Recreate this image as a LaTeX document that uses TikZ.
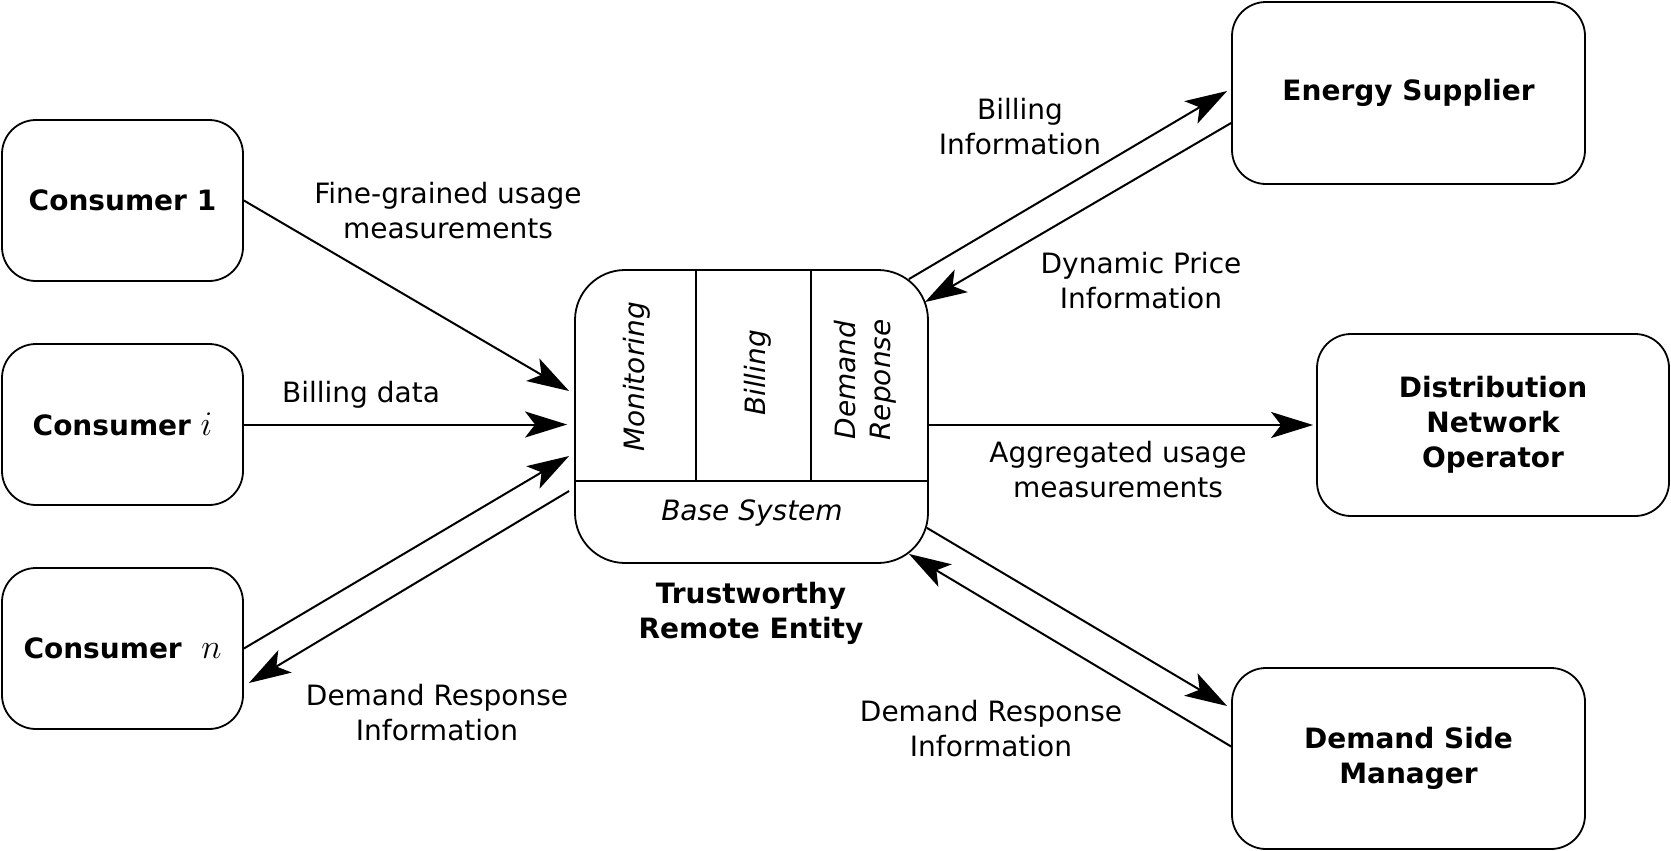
\documentclass[tikz,border=0pt]{standalone}
\usepackage{fontspec}
\setmainfont{DejaVu Sans}
\usetikzlibrary{arrows.meta,calc}
\newcommand{\mathbig}[1]{{\fontsize{16.5}{16.5}\selectfont$#1$}}
\begin{document}
\begin{tikzpicture}[x=0.5pt,y=-0.5pt,
  txt/.style={font=\fontsize{14}{17.5}\selectfont},
  box/.style={draw, line width=0.9pt, rounded corners=17pt, align=center, inner sep=0pt,
              font=\fontsize{14}{17.5}\selectfont\bfseries},
  arr/.style={line width=1pt, -{Stealth[length=21pt,width=13pt,inset=5pt]}},
  lbl/.style={txt, align=center, inner sep=0pt},
  itl/.style={lbl, font=\fontsize{14}{17.5}\selectfont\itshape},
  bld/.style={lbl, font=\fontsize{14}{17.5}\selectfont\bfseries}]
\useasboundingbox (0,0) rectangle (1671,851);

% outer boxes
\node[box, minimum width=120.5pt, minimum height=80.5pt] (c1) at (122.5,200.5) {Consumer 1};
\node[box, minimum width=120.5pt, minimum height=80.5pt] (ci) at (122.5,424.5) {Consumer \mathbig{i}};
\node[box, minimum width=120.5pt, minimum height=80.5pt] (cn) at (122.5,648.5) {Consumer\ \ \mathbig{n}};
\node[box, minimum width=176.5pt, minimum height=91pt] (es) at (1408.5,93) {Energy Supplier};
\node[box, minimum width=176pt, minimum height=91pt] (dno) at (1493,425) {Distribution\\Network\\Operator};
\node[box, minimum width=176.5pt, minimum height=90.5pt] (dsm) at (1408.5,758.5) {Demand Side\\Manager};

% central entity
\node[draw, line width=0.9pt, rounded corners=25pt, minimum width=176.5pt, minimum height=146.5pt, inner sep=0pt] (tre) at (751.5,416.5) {};
\draw[line width=0.9pt] (tre.west |- 0,481) -- (tre.east |- 0,481);
\draw[line width=0.9pt] (696,481) -- (tre.north -| 696,0);
\draw[line width=0.9pt] (811,481) -- (tre.north -| 811,0);
\node[itl, rotate=90] (mon) at (637,377) {Monitoring};
\node[itl, rotate=90] (bil) at (758,373) {Billing};
\node[itl, rotate=90] (drp) at (865,380) {Demand\\Reponse};
\node[itl] (base) at (752,513) {Base System};
\node[bld] (trelbl) at (751,613) {Trustworthy\\Remote Entity};

% labels
\node[lbl] (l1) at (448,211) {Fine-grained usage\\measurements};
\node[lbl] (l2) at (361,395) {Billing data};
\node[lbl] (l3) at (437,713) {Demand Response\\Information};
\node[lbl] (l4) at (1020,127) {Billing\\Information};
\node[lbl] (l5) at (1141,281) {Dynamic Price\\Information};
\node[lbl] (l6) at (1118,470) {Aggregated usage\\measurements};
\node[lbl] (l7) at (991,729) {Demand Response\\Information};

% connectors
\draw[arr] (c1.east) -- ($(tre.west)+(-5,-25.5)$);
\draw[arr, shorten >=3.5pt] (ci.east) -- (ci.east -| tre.west);
\draw[arr] (cn.east) -- ($(tre.west)+(-5,39.5)$);
\draw[arr] ($(tre.west)+(-5,74.5)$) -- ($(cn.east)+(5,34.5)$);
\draw[arr] ($(tre.north east)+(-20,10)$) -- ($(es.west)+(-4,-2)$);
\draw[arr] ($(es.west)+(0,30)$) -- ($(tre.north east)+(-4,33)$);
\draw[arr, shorten >=1.5pt] (tre.east |- dno.west) -- (dno.west);
\draw[arr] ($(tre.south east)+(-2,-36)$) -- ($(dsm.west)+(-4,-52.5)$);
\draw[arr] ($(dsm.west)+(0,-12)$) -- ($(tre.south east)+(-20,-10)$);
\end{tikzpicture}
\end{document}
